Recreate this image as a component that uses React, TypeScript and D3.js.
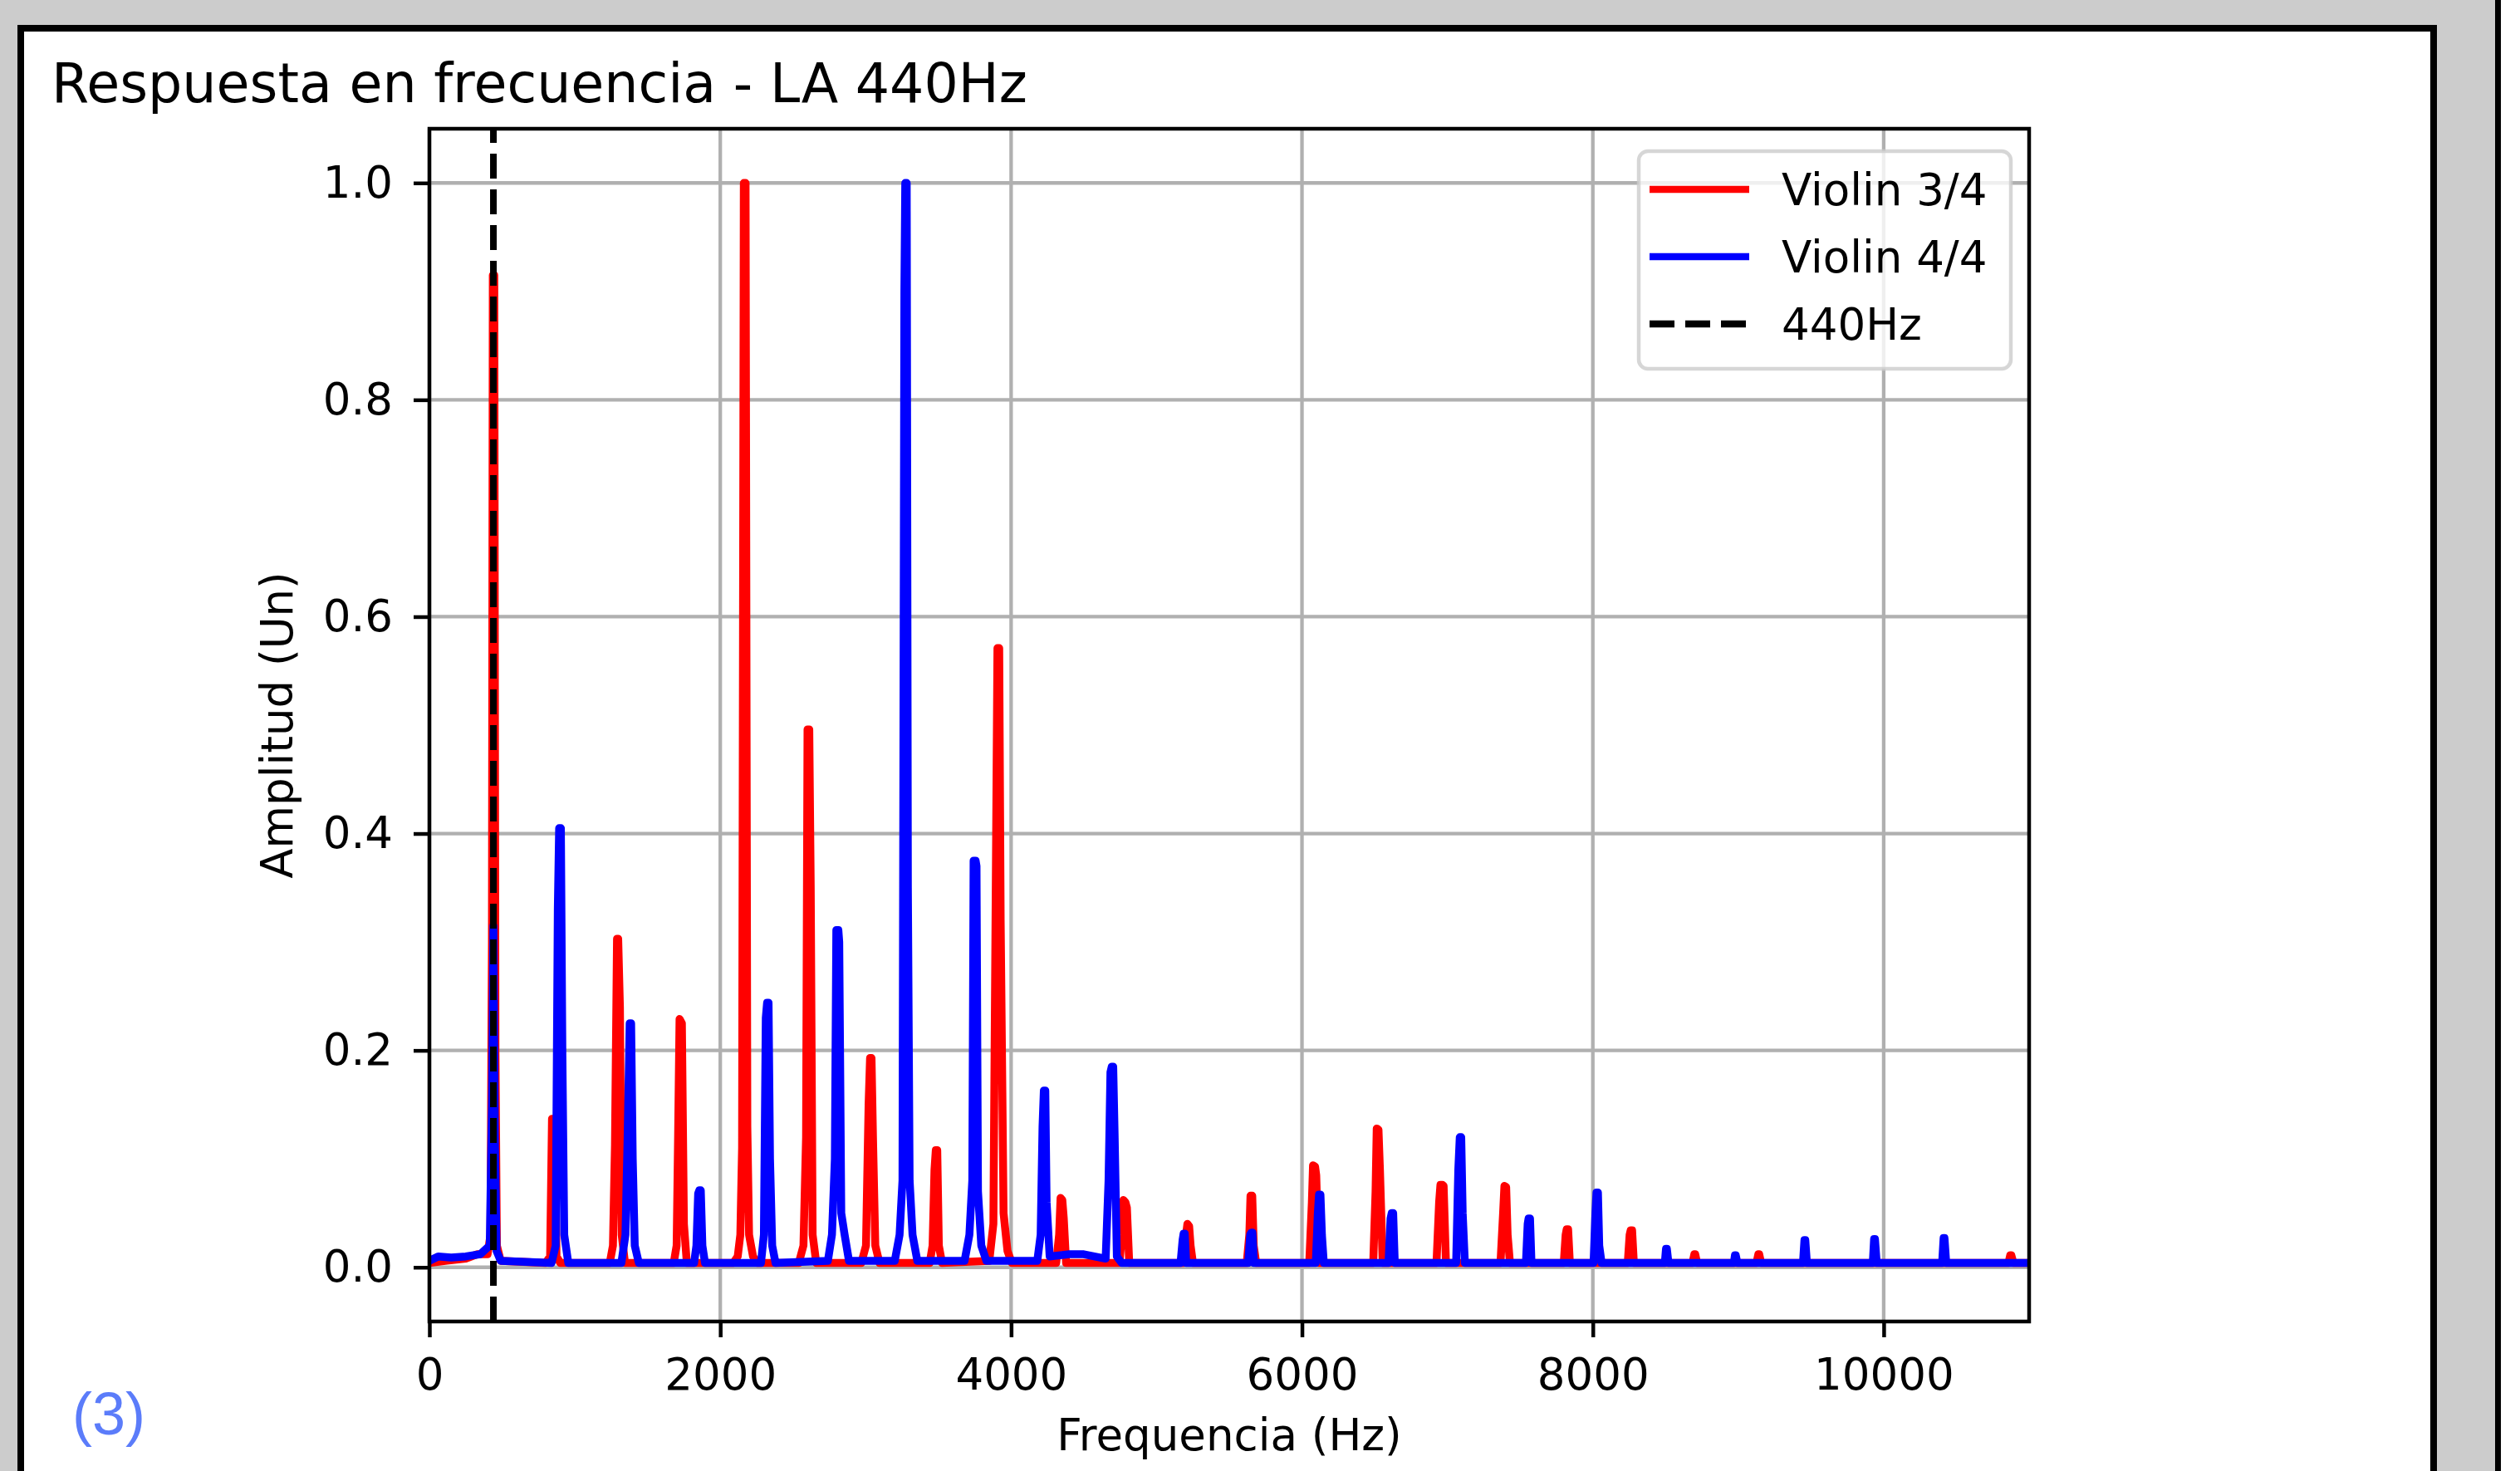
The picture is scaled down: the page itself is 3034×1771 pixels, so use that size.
import React, { useEffect, useRef } from "react";
import * as d3 from "d3";

// frequency (Hz), amplitude (normalised)
const violin34: [number, number][] = [
  [0, 0.004], [120, 0.006], [250, 0.008], [330, 0.012], [400, 0.012], [420, 0.03], [430, 0.3], [436, 0.915], [446, 0.915], [454, 0.2], [464, 0.02], [490, 0.006],
  [800, 0.004], [830, 0.01], [843, 0.137], [860, 0.137], [874, 0.01], [900, 0.004],
  [1240, 0.004], [1262, 0.02], [1276, 0.113], [1290, 0.303], [1298, 0.303], [1310, 0.24], [1322, 0.03], [1345, 0.004],
  [1680, 0.004], [1700, 0.02], [1710, 0.12], [1720, 0.229], [1736, 0.225], [1750, 0.04], [1770, 0.004],
  [2090, 0.004], [2120, 0.01], [2138, 0.03], [2150, 0.11], [2162, 1.0], [2174, 1.0], [2186, 0.13], [2198, 0.03], [2225, 0.01], [2255, 0.004],
  [2540, 0.004], [2572, 0.02], [2590, 0.12], [2600, 0.496], [2612, 0.496], [2622, 0.35], [2635, 0.03], [2660, 0.004],
  [2970, 0.004], [3002, 0.02], [3020, 0.15], [3030, 0.193], [3040, 0.193], [3050, 0.12], [3066, 0.02], [3095, 0.004],
  [3440, 0.004], [3460, 0.02], [3473, 0.09], [3482, 0.108], [3492, 0.108], [3503, 0.02], [3525, 0.004],
  [3850, 0.006], [3878, 0.04], [3896, 0.38], [3906, 0.571], [3918, 0.571], [3928, 0.32], [3948, 0.05], [3975, 0.015], [4005, 0.004],
  [4310, 0.004], [4330, 0.03], [4340, 0.064], [4352, 0.062], [4362, 0.045], [4378, 0.004],
  [4745, 0.004], [4762, 0.03], [4772, 0.062], [4786, 0.06], [4796, 0.055], [4812, 0.004],
  [5185, 0.004], [5203, 0.03], [5212, 0.04], [5224, 0.038], [5234, 0.02], [5250, 0.004],
  [5620, 0.004], [5638, 0.03], [5646, 0.066], [5658, 0.066], [5668, 0.02], [5685, 0.004],
  [6050, 0.004], [6068, 0.06], [6076, 0.094], [6090, 0.093], [6098, 0.085], [6115, 0.004],
  [6490, 0.004], [6506, 0.07], [6514, 0.128], [6526, 0.127], [6536, 0.09], [6555, 0.004],
  [6925, 0.004], [6943, 0.06], [6952, 0.076], [6966, 0.076], [6974, 0.075], [6990, 0.004],
  [7365, 0.004], [7383, 0.05], [7392, 0.075], [7404, 0.074], [7414, 0.03], [7430, 0.004],
  [7800, 0.004], [7813, 0.03], [7820, 0.035], [7830, 0.035], [7842, 0.004],
  [8240, 0.004], [8253, 0.03], [8260, 0.034], [8270, 0.034], [8282, 0.004],
  [8685, 0.004], [8698, 0.012], [8704, 0.012], [8717, 0.004],
  [9125, 0.004], [9138, 0.012], [9144, 0.012], [9157, 0.004],
  [10858, 0.004], [10870, 0.011], [10878, 0.011], [10892, 0.004], [11000, 0.004],
];

const violin44: [number, number][] = [
  [0, 0.006], [60, 0.01], [150, 0.009], [250, 0.01], [350, 0.012], [415, 0.02], [430, 0.15], [440, 0.315], [450, 0.12], [462, 0.015], [490, 0.006],
  [840, 0.004], [868, 0.02], [883, 0.33], [892, 0.405], [904, 0.405], [914, 0.2], [927, 0.03], [955, 0.004],
  [1320, 0.004], [1348, 0.03], [1363, 0.12], [1377, 0.225], [1387, 0.225], [1398, 0.1], [1412, 0.02], [1440, 0.004],
  [1820, 0.004], [1836, 0.02], [1848, 0.068], [1856, 0.071], [1866, 0.071], [1877, 0.02], [1895, 0.004],
  [2280, 0.004], [2300, 0.03], [2313, 0.23], [2322, 0.244], [2332, 0.244], [2342, 0.1], [2357, 0.02], [2380, 0.004],
  [2740, 0.006], [2768, 0.03], [2788, 0.1], [2798, 0.311], [2812, 0.311], [2818, 0.3], [2832, 0.05], [2855, 0.03], [2885, 0.006],
  [3200, 0.006], [3233, 0.03], [3253, 0.08], [3266, 0.9], [3272, 1.0], [3282, 1.0], [3290, 0.35], [3302, 0.08], [3322, 0.03], [3355, 0.006],
  [3680, 0.006], [3713, 0.03], [3733, 0.08], [3742, 0.375], [3756, 0.375], [3762, 0.37], [3772, 0.07], [3795, 0.02], [3830, 0.006],
  [4180, 0.006], [4203, 0.03], [4216, 0.13], [4225, 0.163], [4235, 0.163], [4244, 0.06], [4265, 0.01], [4400, 0.012], [4500, 0.012],
  [4650, 0.008], [4670, 0.08], [4683, 0.18], [4692, 0.185], [4702, 0.185], [4712, 0.12], [4727, 0.01], [4760, 0.004],
  [5165, 0.004], [5179, 0.025], [5186, 0.031], [5194, 0.031], [5204, 0.004],
  [5630, 0.004], [5644, 0.03], [5651, 0.032], [5659, 0.032], [5670, 0.004],
  [6095, 0.004], [6109, 0.05], [6117, 0.067], [6127, 0.067], [6137, 0.03], [6150, 0.004],
  [6595, 0.004], [6609, 0.045], [6617, 0.05], [6627, 0.05], [6638, 0.004],
  [7060, 0.004], [7075, 0.09], [7085, 0.12], [7095, 0.12], [7105, 0.05], [7120, 0.004],
  [7540, 0.004], [7552, 0.04], [7558, 0.045], [7568, 0.045], [7578, 0.004],
  [8005, 0.004], [8018, 0.05], [8025, 0.069], [8035, 0.069], [8044, 0.02], [8060, 0.004],
  [8495, 0.004], [8503, 0.017], [8509, 0.017], [8520, 0.004],
  [8970, 0.004], [8977, 0.011], [8983, 0.011], [8994, 0.004],
  [9445, 0.004], [9455, 0.025], [9461, 0.025], [9472, 0.004],
  [9925, 0.004], [9934, 0.026], [9940, 0.026], [9952, 0.004],
  [10402, 0.004], [10412, 0.027], [10418, 0.027], [10430, 0.004], [11000, 0.004],
];

const referenceFreq = 440;
const xTicks = [0, 2000, 4000, 6000, 8000, 10000];
const yTicks = [0, 0.2, 0.4, 0.6, 0.8, 1.0];
const legendItems = [
  { label: "Violin 3/4", color: "#ff0000", dash: "" },
  { label: "Violin 4/4", color: "#0000ff", dash: "" },
  { label: "440Hz", color: "#000000", dash: "30 13" },
];

export default function App() {
  const svgRef = useRef<SVGSVGElement>(null);

  useEffect(() => {
    const svg = d3.select(svgRef.current);
    svg.selectAll("*").remove();

    const W = 3034;
    const H = 1771;
    const font = "'DejaVu Sans', sans-serif";

    // page frame
    svg.append("rect").attr("width", W).attr("height", H).attr("fill", "#cccccc");
    svg.append("rect")
      .attr("x", 25).attr("y", 34).attr("width", 2905).attr("height", H)
      .attr("fill", "#ffffff").attr("stroke", "#000").attr("stroke-width", 8);
    svg.append("rect").attr("x", 3004).attr("y", 0).attr("width", 7).attr("height", H).attr("fill", "#000");
    svg.append("rect").attr("x", 3011).attr("y", 0).attr("width", W - 3011).attr("height", H).attr("fill", "#fff");

    svg.append("text")
      .attr("x", 62).attr("y", 123)
      .attr("font-family", font).attr("font-size", 65)
      .text("Respuesta en frecuencia - LA 440Hz");

    svg.append("text")
      .attr("x", 87).attr("y", 1727)
      .attr("font-family", "'Liberation Sans', Arial, sans-serif").attr("font-size", 72)
      .attr("fill", "#5b7cfa")
      .text("(3)");

    const margin = { left: 517, top: 155 };
    const width = 2443 - 517;
    const height = 1591 - 155;

    const g = svg.append("g").attr("transform", `translate(${margin.left},${margin.top})`);

    const x = d3.scaleLinear().domain([0, 11000]).range([0, width]);
    const y = d3.scaleLinear().domain([-0.05, 1.05]).range([height, 0]);

    // grid
    g.append("g").selectAll("line").data(xTicks).join("line")
      .attr("x1", d => x(d)).attr("x2", d => x(d))
      .attr("y1", 0).attr("y2", height)
      .attr("stroke", "#b0b0b0").attr("stroke-width", 4.3);
    g.append("g").selectAll("line").data(yTicks).join("line")
      .attr("y1", d => y(d)).attr("y2", d => y(d))
      .attr("x1", 0).attr("x2", width)
      .attr("stroke", "#b0b0b0").attr("stroke-width", 4.3);

    svg.append("defs").append("clipPath").attr("id", "plotClip")
      .append("rect").attr("width", width).attr("height", height);

    const line = d3.line<[number, number]>().x(d => x(d[0])).y(d => y(d[1]));
    const plot = g.append("g").attr("clip-path", "url(#plotClip)");

    plot.append("path").datum(violin34)
      .attr("fill", "none").attr("stroke", "#ff0000").attr("stroke-width", 9.5)
      .attr("stroke-linejoin", "round").attr("d", line);
    plot.append("path").datum(violin44)
      .attr("fill", "none").attr("stroke", "#0000ff").attr("stroke-width", 9.5)
      .attr("stroke-linejoin", "round").attr("d", line);

    plot.append("line")
      .attr("x1", x(referenceFreq)).attr("x2", x(referenceFreq))
      .attr("y1", height).attr("y2", 0)
      .attr("stroke", "#000").attr("stroke-width", 8).attr("stroke-dasharray", "30 13");

    // axes
    const xAxis = g.append("g").attr("transform", `translate(0,${height})`)
      .call(d3.axisBottom(x).tickValues(xTicks).tickFormat(d3.format("d")).tickSize(19).tickSizeOuter(0).tickPadding(25));
    const yAxis = g.append("g")
      .call(d3.axisLeft(y).tickValues(yTicks).tickFormat(d3.format(".1f")).tickSize(19).tickSizeOuter(0).tickPadding(25));
    [xAxis, yAxis].forEach(a => {
      a.select(".domain").remove();
      a.selectAll("line").attr("stroke", "#000").attr("stroke-width", 4.5);
      a.selectAll("text").attr("font-family", font).attr("font-size", 53).attr("fill", "#000");
    });

    // spines
    g.append("rect").attr("width", width).attr("height", height)
      .attr("fill", "none").attr("stroke", "#000").attr("stroke-width", 4.5);

    g.append("text")
      .attr("x", width / 2).attr("y", 1746 - margin.top)
      .attr("text-anchor", "middle")
      .attr("font-family", font).attr("font-size", 53)
      .text("Frequencia (Hz)");

    g.append("text")
      .attr("transform", `translate(${352 - margin.left},${height / 2}) rotate(-90)`)
      .attr("text-anchor", "middle")
      .attr("font-family", font).attr("font-size", 53)
      .text("Amplitud (Un)");

    // legend
    const lg = svg.append("g");
    lg.append("rect")
      .attr("x", 1973).attr("y", 182).attr("width", 448).attr("height", 262).attr("rx", 11)
      .attr("fill", "#fff").attr("fill-opacity", 0.8)
      .attr("stroke", "#cccccc").attr("stroke-opacity", 0.8).attr("stroke-width", 4.5);
    legendItems.forEach((item, i) => {
      const cy = 228 + i * 81;
      lg.append("line")
        .attr("x1", 1986).attr("x2", 2106).attr("y1", cy).attr("y2", cy)
        .attr("stroke", item.color).attr("stroke-width", 8.5)
        .attr("stroke-dasharray", item.dash || null);
      lg.append("text")
        .attr("x", 2145).attr("y", cy + 19)
        .attr("font-family", font).attr("font-size", 53)
        .text(item.label);
    });
  }, []);

  return (
    <svg
      ref={svgRef}
      width={3034}
      height={1771}
      style={{ position: "absolute", left: 0, top: 0, display: "block" }}
    />
  );
}
